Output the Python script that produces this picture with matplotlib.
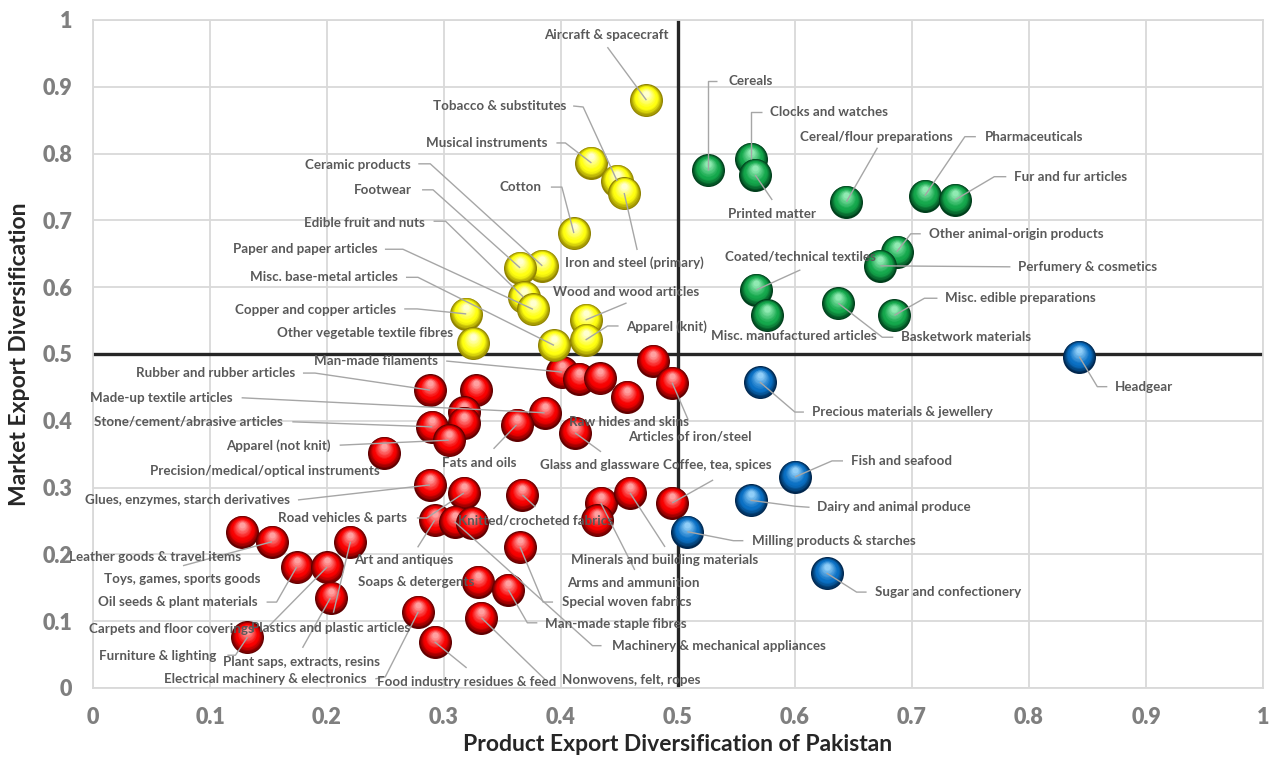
import numpy as np
import matplotlib
matplotlib.use("Agg")
import matplotlib.pyplot as plt
from matplotlib.transforms import IdentityTransform
from matplotlib.colors import to_rgb

plt.rcParams['font.family'] = ['Lato', 'DejaVu Sans']
plt.rcParams['font.weight'] = 'bold'
plt.rcParams['axes.labelweight'] = 'bold'

# ---------------- data ----------------
yellow_names = ["Aircraft & spacecraft", "Musical instruments", "Tobacco & substitutes",
                "Iron and steel (primary)", "Cotton", "Ceramic products", "Footwear",
                "Edible fruit and nuts", "Paper and paper articles", "Misc. base-metal articles",
                "Copper and copper articles", "Other vegetable textile fibres",
                "Wood and wood articles", "Apparel (knit)"]
yellow_x = [0.473, 0.426, 0.448, 0.454, 0.411, 0.384, 0.365, 0.368, 0.376, 0.394,
            0.319, 0.325, 0.421, 0.421]
yellow_y = [0.880, 0.786, 0.759, 0.741, 0.681, 0.632, 0.629, 0.585, 0.567, 0.513,
            0.560, 0.516, 0.551, 0.521]

green_names = ["Cereals", "Clocks and watches", "Printed matter", "Cereal/flour preparations",
               "Pharmaceuticals", "Fur and fur articles", "Other animal-origin products",
               "Perfumery & cosmetics", "Coated/technical textiles", "Misc. manufactured articles",
               "Misc. edible preparations", "Basketwork materials"]
green_x = [0.526, 0.562, 0.566, 0.644, 0.711, 0.737, 0.687, 0.673, 0.567, 0.576, 0.685, 0.637]
green_y = [0.775, 0.792, 0.768, 0.728, 0.737, 0.731, 0.653, 0.632, 0.596, 0.558, 0.558, 0.576]

blue_names = ["Headgear", "Precious materials & jewellery", "Fish and seafood",
              "Dairy and animal produce", "Milling products & starches", "Sugar and confectionery"]
blue_x = [0.843, 0.570, 0.600, 0.562, 0.508, 0.627]
blue_y = [0.496, 0.458, 0.316, 0.281, 0.234, 0.172]

red_names = ["Man-made filaments", "", "", "Raw hides and skins", "", "Articles of iron/steel",
             "Rubber and rubber articles", "", "", "", "Stone/cement/abrasive articles",
             "Apparel (not knit)", "Precision/medical/optical instruments",
             "Made-up textile articles", "Fats and oils", "Glass and glassware",
             "Glues, enzymes, starch derivatives", "Road vehicles & parts",
             "Knitted/crocheted fabrics", "Art and antiques", "Machinery & mechanical appliances",
             "", "Special woven fabrics", "Arms and ammunition", "",
             "Minerals and building materials", "Coffee, tea, spices",
             "Toys, games, sports goods", "Leather goods & travel items",
             "Plastics and plastic articles", "Oil seeds & plant materials",
             "Carpets and floor coverings", "Plant saps, extracts, resins",
             "Furniture & lighting", "Electrical machinery & electronics",
             "Food industry residues & feed", "Soaps & detergents",
             "Man-made staple fibres", "Nonwovens, felt, ropes"]
red_x = [0.401, 0.415, 0.433, 0.456, 0.479, 0.495, 0.288, 0.327, 0.317, 0.317, 0.290,
         0.304, 0.249, 0.386, 0.362, 0.412, 0.288, 0.317, 0.367, 0.292, 0.309, 0.324,
         0.365, 0.434, 0.431, 0.459, 0.495, 0.127, 0.153, 0.220, 0.174, 0.200, 0.203,
         0.132, 0.278, 0.292, 0.329, 0.355, 0.332]
red_y = [0.473, 0.463, 0.464, 0.436, 0.490, 0.457, 0.446, 0.446, 0.413, 0.397, 0.391,
         0.371, 0.352, 0.412, 0.394, 0.382, 0.304, 0.292, 0.289, 0.251, 0.249, 0.247,
         0.211, 0.277, 0.251, 0.292, 0.277, 0.234, 0.219, 0.219, 0.181, 0.181, 0.135,
         0.076, 0.114, 0.069, 0.159, 0.147, 0.105]

axis_ticks = [0, 0.1, 0.2, 0.3, 0.4, 0.5, 0.6, 0.7, 0.8, 0.9, 1]

# ------------- label layout (pixel offsets from the point, y downward) -------------
# name: (dx, dy, ha, leader vertices after the point centre)
label_layout = {
    "Aircraft & spacecraft": (-40, -65, 'center', [(-39, -53)]),
    "Tobacco & substitutes": (-51, -75, 'right', [(-34, -74), (-44, -75)]),
    "Musical instruments": (-44, -20, 'right', [(-26, -20), (-35, -20)]),
    "Cotton": (-32, -46, 'right', [(-12, -46), (-23, -46)]),
    "Iron and steel (primary)": (-59, 70, 'left', [(13, 57)]),
    "Ceramic products": (-132, -101, 'right', [(-112, -102), (-124, -102)]),
    "Footwear": (-108, -78, 'right', [(-87, -78), (-98, -78)]),
    "Edible fruit and nuts": (-99, -74, 'right', [(-78, -76), (-90, -76)]),
    "Paper and paper articles": (-155, -60, 'right', [(-130, -60), (-148, -60)]),
    "Misc. base-metal articles": (-156, -68, 'right', [(-136, -68), (-148, -68)]),
    "Copper and copper articles": (-70, -4, 'right', [(-49, -5), (-62, -5)]),
    "Other vegetable textile fibres": (-20, -10, 'right', []),
    "Wood and wood articles": (41, -28, 'center', [(41, -17)]),
    "Apparel (knit)": (41, -13, 'left', [(22, -14), (33, -14)]),
    "Cereals": (20, -89, 'left', [(0, -89), (9, -89)]),
    "Clocks and watches": (19, -47, 'left', [(0, -47), (11, -47)]),
    "Printed matter": (17, 39, 'center', [(17, 25)]),
    "Cereal/flour preparations": (30, -65, 'center', [(31, -54)]),
    "Pharmaceuticals": (60, -59, 'left', [(40, -59), (51, -59)]),
    "Fur and fur articles": (59, -23, 'left', [(39, -23), (51, -23)]),
    "Other animal-origin products": (32, -18, 'left', [(14, -18), (24, -18)]),
    "Perfumery & cosmetics": (138, 1, 'left', [(130, 1)]),
    "Coated/technical textiles": (44, -33, 'center', [(44, -20)]),
    "Misc. manufactured articles": (27, 21, 'center', []),
    "Misc. edible preparations": (51, -17, 'left', [(30, -17), (43, -17)]),
    "Basketwork materials": (63, 34, 'left', [(44, 34), (55, 34)]),
    "Headgear": (36, 30, 'left', [(18, 30), (28, 30)]),
    "Precious materials & jewellery": (52, 30, 'left', [(35, 30), (44, 30)]),
    "Fish and seafood": (56, -16, 'left', [(37, -16), (48, -16)]),
    "Dairy and animal produce": (66, 7, 'left', [(45, 6), (59, 7)]),
    "Milling products & starches": (65, 9, 'left', [(46, 9), (56, 9)]),
    "Sugar and confectionery": (48, 19, 'left', [(30, 19), (40, 19)]),
    "Man-made filaments": (-124, -11, 'right', [(-116, -11)]),
    "Raw hides and skins": (2, 25, 'center', []),
    "Articles of iron/steel": (18, 54, 'center', [(16, 37)]),
    "Rubber and rubber articles": (-135, -17, 'right', [(-115, -17), (-127, -17)]),
    "Stone/cement/abrasive articles": (-149, -5, 'right', [(-140, -5)]),
    "Apparel (not knit)": (-118, 5, 'right', [(-109, 5)]),
    "Precision/medical/optical instruments": (-119, 18, 'center', []),
    "Made-up textile articles": (-312, -15, 'right', [(-303, -15)]),
    "Fats and oils": (-37, 38, 'center', [(-23, 24)]),
    "Glass and glassware": (25, 32, 'center', [(26, 19)]),
    "Glues, enzymes, starch derivatives": (-140, 15, 'right', [(-132, 15)]),
    "Road vehicles & parts": (-57, 25, 'right', [(-37, 25), (-47, 25)]),
    "Knitted/crocheted fabrics": (13, 26, 'center', [(13, 12)]),
    "Art and antiques": (-31, 40, 'center', [(-17, 27)]),
    "Machinery & mechanical appliances": (157, 124, 'left', [(138, 124), (147, 124)]),
    "Special woven fabrics": (42, 55, 'left', [(23, 55), (33, 55)]),
    "Arms and ammunition": (33, 80, 'center', [(34, 67)]),
    "Minerals and building materials": (35, 67, 'center', [(35, 54)]),
    "Coffee, tea, spices": (45, -38, 'center', [(41, -23)]),
    "Toys, games, sports goods": (-59, 47, 'center', []),
    "Leather goods & travel items": (-117, 15, 'center', [(-89, 24)]),
    "Plastics and plastic articles": (-20, 86, 'center', [(-17, 71)]),
    "Oil seeds & plant materials": (-39, 35, 'right', [(-20, 35), (-30, 35)]),
    "Carpets and floor coverings": (-156, 62, 'center', [(-60, 61)]),
    "Plant saps, extracts, resins": (-29, 64, 'center', [(-28, 50)]),
    "Furniture & lighting": (-31, 19, 'right', [(-12, 18), (-20, 18)]),
    "Electrical machinery & electronics": (-52, 67, 'right', [(-33, 65), (-43, 67)]),
    "Food industry residues & feed": (32, 40, 'center', [(32, 26)]),
    "Soaps & detergents": (-62, 0, 'center', []),
    "Man-made staple fibres": (37, 34, 'left', [(19, 33), (29, 33)]),
    "Nonwovens, felt, ropes": (81, 62, 'left', [(64, 62)]),
}

# sphere shading: rim, body, highlight
palettes = {
    'yellow': ('#8F8200', '#FFFF10', '#FFFFD0'),
    'green':  ('#003E1B', '#14A84C', '#90EAB2'),
    'red':    ('#600000', '#F80000', '#FFA0A0'),
    'blue':   ('#00264D', '#0A70C4', '#90CEF8'),
}

W, H, DPI = 12.77, 7.58, 100
fig = plt.figure(figsize=(W, H), dpi=DPI)
ax = fig.add_axes([93 / 1277, 70 / 758, 1170 / 1277, 668 / 758])
ax.set_xlim(0, 1)
ax.set_ylim(0, 1)

grid_c = '#D9D9D9'
ax.set_xticks(axis_ticks)
ax.set_yticks(axis_ticks)
fmt = lambda v: '0' if v == 0 else ('1' if v == 1 else f'{v:.1f}')
ax.set_xticklabels([fmt(v) for v in axis_ticks], fontweight='heavy')
ax.set_yticklabels([fmt(v) for v in axis_ticks], fontweight='heavy')
ax.grid(True, color=grid_c, lw=1.3, zorder=0)
ax.set_axisbelow(True)
for s in ax.spines.values():
    s.set_color(grid_c)
    s.set_linewidth(1.3)
ax.tick_params(length=0, labelsize=15.5, labelcolor='#7F7F7F')
ax.tick_params(axis='y', pad=15)
ax.tick_params(axis='x', pad=14)

ax.axvline(0.5, color='#262626', lw=2.4, zorder=1)
ax.axhline(0.5, color='#262626', lw=2.4, zorder=1)

ax.set_xlabel('Product Export Diversification of Pakistan', fontsize=16.5,
              color='#262626', fontweight='bold', labelpad=4)
ax.set_ylabel('Market Export Diversification', fontsize=16.5, color='#262626',
              fontweight='bold', labelpad=9)

R = 16.5  # sphere radius in pixels


def mix(a, b, t):
    a, b = np.array(to_rgb(a)), np.array(to_rgb(b))
    return tuple(a + (b - a) * t)


def draw_sphere(x, y, pal, z):
    rim, body, hi = palettes[pal]
    cx, cy = ax.transData.transform((x, y))
    n = 14
    for k in range(n):
        t = k / (n - 1)
        r = R * (1 - 0.82 * t)
        if t < 0.45:
            col = mix(rim, body, min(1.0, t / 0.35))
        else:
            col = mix(body, hi, (t - 0.45) / 0.55)
        oy = R * 0.40 * t
        d_pt = 2 * r * 72 / DPI
        ax.scatter([cx], [cy + oy], s=d_pt ** 2, color=col, lw=0,
                   transform=IdentityTransform(), zorder=z + k * 0.001, clip_on=False)


series = [
    (red_names, red_x, red_y, 'red'),
    (yellow_names, yellow_x, yellow_y, 'yellow'),
    (green_names, green_x, green_y, 'green'),
    (blue_names, blue_x, blue_y, 'blue'),
]

z = 3
for names, xs, ys, pal in series:
    for nm, x, y in zip(names, xs, ys):
        draw_sphere(x, y, pal, z)
        z += 0.02

lab_c = '#595959'
lead_c = '#A6A6A6'
for names, xs, ys, pal in series:
    for nm, x, y in zip(names, xs, ys):
        if not nm or nm not in label_layout:
            continue
        dx, dy, ha, path = label_layout[nm]
        cx, cy = ax.transData.transform((x, y))
        if path:
            px = [cx] + [cx + p[0] for p in path]
            py = [cy] + [cy - p[1] for p in path]
            ax.plot(px, py, color=lead_c, lw=1.0, transform=IdentityTransform(),
                    zorder=10, clip_on=False, solid_capstyle='butt')
        ax.text(cx + dx, cy - dy, nm, ha=ha, va='center', fontsize=9.6,
                fontweight='bold', color=lab_c, transform=IdentityTransform(),
                zorder=11, clip_on=False)

fig.savefig('out.png', dpi=DPI)
